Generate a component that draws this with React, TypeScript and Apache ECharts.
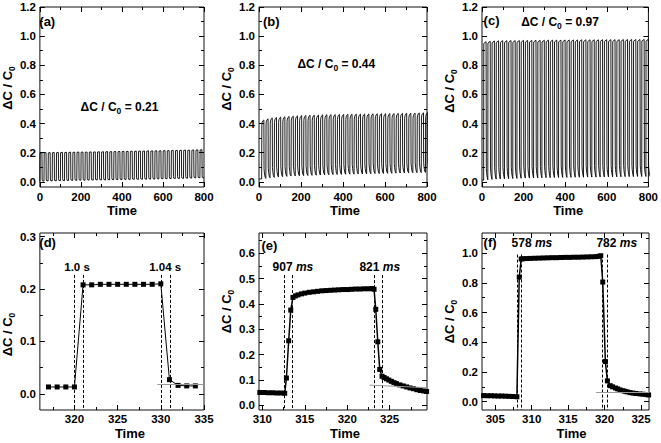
import React, { useEffect, useRef } from "react";
import * as echarts from "echarts";

const FONT = '"Liberation Sans", Arial, Helvetica, sans-serif';

// ---------- overview panels (a)-(c): one pulse per cycle ----------
const cycleStarts = [0, 20, 40, 60, 80, 100, 120, 140, 160, 180, 200, 220, 240, 260, 280, 300, 320, 340, 360, 380,
  400, 420, 440, 460, 480, 500, 520, 540, 560, 580, 600, 620, 640, 660, 680, 700, 720, 740, 760, 780];
const phaseA = 0;
const phaseB = 12.6;
const phaseC = 8.0;

const peaksA = [0.200, 0.201, 0.201, 0.202, 0.202, 0.203, 0.203, 0.204, 0.204, 0.205, 0.205, 0.205, 0.206, 0.206, 0.207, 0.207,
  0.208, 0.208, 0.209, 0.209, 0.210, 0.210, 0.211, 0.211, 0.212, 0.212, 0.213, 0.213, 0.214, 0.214, 0.215, 0.215, 0.216,
  0.216, 0.217, 0.218, 0.218, 0.219, 0.220, 0.221];
const troughsA = [0.004, 0.005, 0.006, 0.006, 0.007, 0.008, 0.008, 0.009, 0.010, 0.010, 0.011, 0.011, 0.012, 0.012, 0.013,
  0.013, 0.013, 0.014, 0.014, 0.015, 0.015, 0.016, 0.016, 0.017, 0.017, 0.018, 0.018, 0.019, 0.019, 0.020, 0.021, 0.021,
  0.022, 0.023, 0.023, 0.024, 0.025, 0.026, 0.027, 0.028];

const peaksB = [0.425, 0.433, 0.438, 0.442, 0.445, 0.447, 0.449, 0.451, 0.453, 0.455, 0.456, 0.457, 0.458, 0.459, 0.460,
  0.461, 0.462, 0.462, 0.463, 0.463, 0.464, 0.464, 0.465, 0.465, 0.466, 0.466, 0.467, 0.467, 0.468, 0.468, 0.469, 0.469,
  0.470, 0.470, 0.471, 0.471, 0.472, 0.473, 0.474, 0.475];
const troughsB = [0.020, 0.024, 0.028, 0.031, 0.034, 0.036, 0.038, 0.040, 0.041, 0.042, 0.043, 0.044, 0.045, 0.046, 0.047,
  0.048, 0.049, 0.050, 0.051, 0.051, 0.052, 0.053, 0.053, 0.054, 0.055, 0.055, 0.056, 0.057, 0.057, 0.058, 0.059, 0.059,
  0.060, 0.061, 0.061, 0.062, 0.063, 0.063, 0.064, 0.065];

const peaksC = [0.962, 0.965, 0.967, 0.968, 0.969, 0.969, 0.970, 0.970, 0.970, 0.971, 0.971, 0.971, 0.972, 0.972, 0.972,
  0.973, 0.973, 0.973, 0.973, 0.974, 0.974, 0.974, 0.974, 0.975, 0.975, 0.975, 0.975, 0.975, 0.976, 0.976, 0.976, 0.976,
  0.976, 0.977, 0.977, 0.977, 0.977, 0.977, 0.978, 0.978];
const troughsC = [0.012, 0.015, 0.017, 0.019, 0.020, 0.021, 0.022, 0.023, 0.024, 0.025, 0.026, 0.026, 0.027, 0.027, 0.028,
  0.029, 0.029, 0.030, 0.030, 0.031, 0.031, 0.031, 0.032, 0.032, 0.032, 0.033, 0.033, 0.033, 0.034, 0.034, 0.034, 0.035,
  0.035, 0.035, 0.036, 0.036, 0.036, 0.037, 0.037, 0.037];

// cycle shape: [time after onset, reference (0 trough, 1 peak, 2 next trough), offset]
const shapeA = [[0, 0, 0], [1, 1, -0.002], [10, 1, 0], [11, 2, 0.014], [12, 2, 0.003]];
const shapeB = [[0, 0, 0], [1.0, 1, -0.035], [2.4, 1, -0.018], [5.4, 1, -0.007], [10.6, 1, 0], [11.5, 2, 0.067],
  [13.2, 2, 0.038], [16, 2, 0.011]];
const shapeC = [[0, 0, 0], [0.6, 1, -0.012], [11.5, 1, 0], [12.8, 2, 0.078], [14.1, 2, 0.049], [15.5, 2, 0.031],
  [17.5, 2, 0.015]];

// ---------- zoomed panels ----------
const dTime = [317, 318, 319, 320, 321, 322, 323, 324, 325, 326, 327, 328, 329, 330, 331, 332, 333, 334];
const dValue = [0.013, 0.013, 0.013, 0.013, 0.208, 0.208, 0.209, 0.209, 0.209, 0.209, 0.209, 0.209, 0.209, 0.210,
  0.027, 0.016, 0.015, 0.015];

const eTime = [309.7, 310.2, 310.7, 311.2, 311.7, 312.2, 312.63, 312.83, 313.1, 313.34, 313.6, 313.9, 314.2, 314.6, 315.0,
  315.5, 316.0, 316.5, 317.0, 317.5, 318.0, 318.5, 319.0, 319.5, 320.0, 320.5, 321.0, 321.5, 322.0, 322.5, 322.9, 323.16,
  323.36, 323.6, 323.83, 324.1, 324.35, 324.62, 324.9, 325.2, 325.5, 325.8, 326.2, 326.6, 327.0, 327.4, 327.8, 328.2,
  328.6, 329.0, 329.35];
const eValue = [0.051, 0.051, 0.050, 0.050, 0.049, 0.049, 0.048, 0.108, 0.255, 0.376, 0.426, 0.432, 0.436, 0.440, 0.443,
  0.446, 0.448, 0.450, 0.452, 0.453, 0.454, 0.455, 0.456, 0.457, 0.457, 0.458, 0.459, 0.459, 0.460, 0.460, 0.461, 0.458,
  0.379, 0.251, 0.142, 0.115, 0.110, 0.105, 0.100, 0.095, 0.090, 0.086, 0.081, 0.077, 0.073, 0.069, 0.066, 0.062, 0.059,
  0.057, 0.055];

const fTime = [303.4, 303.9, 304.4, 304.9, 305.4, 305.9, 306.4, 306.9, 307.4, 307.97, 308.29, 308.56, 308.8, 309.3, 309.8,
  310.4, 311.0, 311.6, 312.2, 312.8, 313.4, 314.0, 314.6, 315.2, 315.8, 316.4, 317.0, 317.6, 318.2, 318.8, 319.2, 319.48,
  319.75, 320.11, 320.39, 320.76, 321.1, 321.5, 321.8, 322.13, 322.5, 322.8, 323.1, 323.5, 323.9, 324.3, 324.87, 325.3,
  325.7, 326.05];
const fValue = [0.041, 0.040, 0.040, 0.039, 0.038, 0.038, 0.037, 0.036, 0.035, 0.033, 0.838, 0.960, 0.962, 0.963, 0.964,
  0.965, 0.966, 0.967, 0.968, 0.969, 0.969, 0.970, 0.971, 0.971, 0.972, 0.972, 0.973, 0.974, 0.975, 0.976, 0.978, 0.982,
  0.805, 0.270, 0.140, 0.108, 0.100, 0.092, 0.086, 0.079, 0.074, 0.070, 0.066, 0.061, 0.058, 0.055, 0.052, 0.050, 0.048,
  0.045];

// rise / fall boundaries (dashed lines) and baseline guides (grey)
const dEdges = [320, 321, 330, 331.05];
const eEdges = [312.63, 313.55, 323.16, 324.1];
const fEdges = [307.97, 308.56, 319.62, 320.39];
const dashTops = [0.227, 0.514, 0.99];
const dGuide = [[329.6, 0.018], [335, 0.018]];
const eGuide = [[322.6, 0.08], [329.4, 0.07]];
const fGuide = [[318.84, 0.065], [326.1, 0.065]];

// ---------- tick labels ----------
const xTicksTop = [0, 200, 400, 600, 800];
const xMinorTop = [100, 300, 500, 700];
const yTicksTop = [0, 0.2, 0.4, 0.6, 0.8, 1.0, 1.2];
const yMinorTop = [0.1, 0.3, 0.5, 0.7, 0.9, 1.1];
const xTicksD = [320, 325, 330, 335];
const xMinorD = [317.5, 322.5, 327.5, 332.5];
const yTicksD = [0, 0.1, 0.2, 0.3];
const yMinorD = [0.05, 0.15, 0.25];
const xTicksE = [310, 315, 320, 325];
const xMinorE = [312.5, 317.5, 322.5, 327.5];
const yTicksE = [0, 0.1, 0.2, 0.3, 0.4, 0.5, 0.6];
const yMinorE = [0.05, 0.15, 0.25, 0.35, 0.45, 0.55, 0.65];
const xTicksF = [305, 310, 315, 320, 325];
const xMinorF = [307.5, 312.5, 317.5, 322.5];
const yTicksF = [0, 0.2, 0.4, 0.6, 0.8, 1.0];
const yMinorF = [0.1, 0.3, 0.5, 0.7, 0.9, 1.1];

// ---------- texts ----------
const panelNames = ["(a)", "(b)", "(c)", "(d)", "(e)", "(f)"];
const annoPanel = [0, 1, 2, 3, 3, 4, 4, 5, 5];
const annoX = [388, 368, 375, 320.3, 330.5, 313.6, 323.83, 310.03, 321.67];
const annoY = [0.517, 0.808, 1.098, 0.243, 0.243, 0.547, 0.547, 1.067, 1.067];
const annoText = ["ΔC / C{sub|0} = 0.21", "ΔC / C{sub|0} = 0.44", "ΔC / C{sub|0} = 0.97", "1.0 s", "1.04 s",
  "907 {it|ms}", "821 {it|ms}", "578 {it|ms}", "782 {it|ms}"];

// ---------- layout ----------
type Panel = {
  grid: { left: number; top: number; width: number; height: number };
  xr: [number, number]; yr: [number, number];
  xt: number[]; xm: number[]; yt: number[]; ym: number[];
  xPad: number[]; yPad: number[]; xGap: number; xMargin: number;
  lab: [number, number];
};

const panels: Panel[] = [
  { grid: { left: 36, top: 7, width: 168, height: 180 }, xr: [0, 800], yr: [-0.035, 1.2], xt: xTicksTop, xm: xMinorTop,
    yt: yTicksTop, ym: yMinorTop, xPad: [0, 0, 0, 0], yPad: [0, 0, 0, 18], xGap: 15, xMargin: 4, lab: [3.3, 14.5] },
  { grid: { left: 259, top: 7, width: 168, height: 180 }, xr: [0, 800], yr: [-0.035, 1.2], xt: xTicksTop, xm: xMinorTop,
    yt: yTicksTop, ym: yMinorTop, xPad: [0, 0, 0, 4], yPad: [0, 0, 0, 16], xGap: 15, xMargin: 4, lab: [4, 14.7] },
  { grid: { left: 482, top: 7, width: 167, height: 180 }, xr: [0, 800], yr: [-0.035, 1.2], xt: xTicksTop, xm: xMinorTop,
    yt: yTicksTop, ym: yMinorTop, xPad: [0, 0, 0, 6], yPad: [0, 0, 0, 12], xGap: 15, xMargin: 4, lab: [1.6, 13] },
  { grid: { left: 36, top: 233, width: 168, height: 177 }, xr: [316, 335], yr: [-0.031, 0.307], xt: xTicksD, xm: xMinorD,
    yt: yTicksD, ym: yMinorD, xPad: [0, 0, 0, 16], yPad: [0, 26, 0, 0], xGap: 17, xMargin: 3, lab: [3.3, 9.5] },
  { grid: { left: 259, top: 233, width: 168, height: 177 }, xr: [309.6, 329.4], yr: [-0.018, 0.68], xt: xTicksE, xm: xMinorE,
    yt: yTicksE, ym: yMinorE, xPad: [0, 0, 0, 4], yPad: [0, 0, 0, 20], xGap: 17, xMargin: 3, lab: [2.4, 12] },
  { grid: { left: 482, top: 233, width: 167, height: 177 }, xr: [303.18, 326.1], yr: [-0.056, 1.135], xt: xTicksF, xm: xMinorF,
    yt: yTicksF, ym: yMinorF, xPad: [0, 0, 0, 12], yPad: [0, 0, 0, 0], xGap: 17, xMargin: 3, lab: [1.6, 9.5] },
];

const INK = "#000";
const rich = {
  sub: { fontSize: 8.5, fontWeight: "bold", fontFamily: FONT, color: INK, padding: [8, 0, 0, 0] },
  it: { fontSize: 12, fontStyle: "italic", fontWeight: "bold", fontFamily: FONT, color: INK },
};

function buildWave(phase: number, peaks: number[], troughs: number[], shape: number[][]) {
  const pts: number[][] = [];
  if (phase > 0) pts.push([0, troughs[0]]);
  cycleStarts.forEach((c, k) => {
    const onset = c + phase;
    const P = peaks[k];
    const T = troughs[k];
    const N = troughs[Math.min(k + 1, troughs.length - 1)];
    shape.forEach(([dt, ref, off]) => {
      const base = ref === 0 ? T : ref === 1 ? P : N;
      pts.push([onset + dt, base + off]);
    });
    if (k === cycleStarts.length - 1) pts.push([onset + 20, N]);
  });
  return pts;
}

function makeAxes(dim: "x" | "y", i: number, p: Panel) {
  const [min, max] = dim === "x" ? p.xr : p.yr;
  const major = dim === "x" ? p.xt : p.yt;
  const minor = dim === "x" ? p.xm : p.ym;
  const positions = dim === "x" ? ["bottom", "top"] : ["left", "right"];
  const base = {
    type: "value", gridIndex: i, min, max, splitLine: { show: false },
    axisLine: { show: false, onZero: false }, silent: true,
  };
  const axes: any[] = [];
  positions.forEach((pos, side) => {
    const main: any = {
      ...base, position: pos,
      axisTick: { show: true, inside: true, length: 5, customValues: major, lineStyle: { color: INK, width: 1 } },
      axisLabel: side === 0 ? {
        show: true, customValues: major, margin: dim === "x" ? p.xMargin : 4,
        formatter: (v: number) => (dim === "x" ? String(Math.round(v)) : v.toFixed(1)),
        color: INK, fontFamily: FONT, fontSize: 11.5, fontWeight: "bold",
      } : { show: false },
    };
    if (side === 0) {
      if (dim === "x") {
        Object.assign(main, {
          name: "Time", nameLocation: "middle", nameGap: p.xGap,
          nameTextStyle: { color: INK, fontFamily: FONT, fontSize: 13, fontWeight: "bold", padding: p.xPad },
        });
      } else {
        Object.assign(main, {
          name: "ΔC / C{sub|0}", nameLocation: "middle", nameGap: 15,
          nameTextStyle: { color: INK, fontFamily: FONT, fontSize: 13, fontWeight: "bold", padding: p.yPad, rich },
        });
      }
    }
    axes.push(main);
    axes.push({
      ...base, position: pos,
      axisTick: { show: true, inside: true, length: 3, customValues: minor, lineStyle: { color: INK, width: 1 } },
      axisLabel: { show: false },
    });
  });
  return axes;
}

function edgeLines(edges: number[], top: number, bottom: number, guide: number[][]) {
  const data: any[] = edges.map((x) => [{ coord: [x, top] }, { coord: [x, bottom] }]);
  data.push([
    { coord: guide[0], lineStyle: { color: "#9a9a9a", type: "solid", width: 1 } },
    { coord: guide[1] },
  ]);
  return {
    silent: true, symbol: ["none", "none"], label: { show: false }, animation: false,
    lineStyle: { color: INK, type: [3, 2], width: 1 },
    data,
  };
}

function buildOption() {
  const xAxis: any[] = [];
  const yAxis: any[] = [];
  panels.forEach((p, i) => {
    xAxis.push(...makeAxes("x", i, p));
    yAxis.push(...makeAxes("y", i, p));
  });
  const waveSeries = (i: number, data: number[][]) => ({
    type: "line", xAxisIndex: 4 * i, yAxisIndex: 4 * i, data, showSymbol: false, clip: true,
    lineStyle: { color: INK, width: 0.9 }, itemStyle: { color: INK },
  });
  const pointSeries = (i: number, xs: number[], ys: number[], size: number, lw: number, ml: any) => ({
    type: "line", xAxisIndex: 4 * i, yAxisIndex: 4 * i, data: xs.map((x, k) => [x, ys[k]]),
    symbol: "rect", symbolSize: size, showSymbol: true, clip: true,
    lineStyle: { color: INK, width: lw }, itemStyle: { color: INK }, markLine: ml, z: 3,
  });
  return {
    animation: false,
    backgroundColor: "#fff",
    textStyle: { fontFamily: FONT },
    grid: panels.map((p) => ({ ...p.grid, show: true, borderColor: "#111", borderWidth: 1, backgroundColor: "transparent", containLabel: false })),
    xAxis,
    yAxis,
    series: [
      waveSeries(0, buildWave(phaseA, peaksA, troughsA, shapeA)),
      waveSeries(1, buildWave(phaseB, peaksB, troughsB, shapeB)),
      waveSeries(2, buildWave(phaseC, peaksC, troughsC, shapeC)),
      pointSeries(3, dTime, dValue, 5, 1, edgeLines(dEdges, dashTops[0], panels[3].yr[0], dGuide)),
      pointSeries(4, eTime, eValue, 5, 1.5, edgeLines(eEdges, dashTops[1], panels[4].yr[0], eGuide)),
      pointSeries(5, fTime, fValue, 5, 1.5, edgeLines(fEdges, dashTops[2], panels[5].yr[0], fGuide)),
    ],
  };
}

function buildGraphics(chart: any) {
  const g: any[] = [];
  panels.forEach((p, i) => {
    g.push({
      type: "text", x: p.grid.left + p.lab[0], y: p.grid.top + p.lab[1], silent: true,
      style: { text: panelNames[i], fill: INK, fontFamily: FONT, fontSize: 13, fontWeight: "bold", align: "left", verticalAlign: "middle" },
    });
  });
  annoText.forEach((t, k) => {
    const pt = chart.convertToPixel({ seriesIndex: annoPanel[k] }, [annoX[k], annoY[k]]);
    if (!pt) return;
    g.push({
      type: "text", x: pt[0], y: pt[1], silent: true,
      style: {
        text: t, fill: INK, fontFamily: FONT, fontSize: annoPanel[k] === 3 ? 11.5 : 12, fontWeight: "bold",
        align: "center", verticalAlign: "middle", rich,
      },
    });
  });
  return g;
}

export default function App() {
  const ref = useRef<HTMLDivElement>(null);
  useEffect(() => {
    if (!ref.current) return;
    const chart = echarts.init(ref.current, null, { renderer: "svg" });
    chart.setOption(buildOption() as any);
    chart.setOption({ graphic: buildGraphics(chart) } as any);
    return () => chart.dispose();
  }, []);
  return (
    <div
      ref={ref}
      style={{ position: "absolute", left: 0, top: 0, width: 661, height: 443, background: "#fff" }}
    />
  );
}
